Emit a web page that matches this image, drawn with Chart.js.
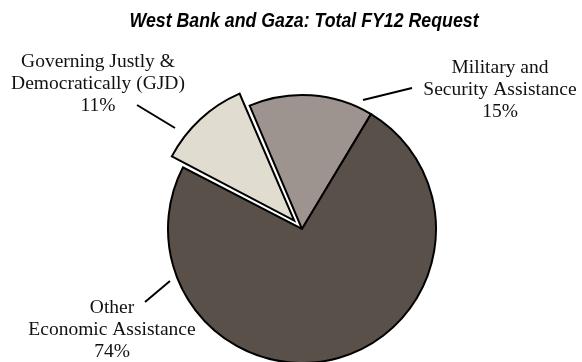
<!DOCTYPE html>
<html>
<head>
<meta charset="utf-8">
<script src="https://cdn.jsdelivr.net/npm/chart.js@4.4.1/dist/chart.umd.min.js"></script>
<style>
  body { margin: 0; background: #fff; }
  #wrap { width: 582px; height: 362px; }
</style>
</head>
<body>
<div id="wrap"><canvas id="myChart"></canvas></div>
<script>
var chartTitle = 'West Bank and Gaza: Total FY12 Request'
var labels = ['Military and Security Assistance', 'Other Economic Assistance', 'Governing Justly & Democratically (GJD)']
var shares = [15, 74, 11]
var labelLines = [
    ['Military and', 'Security Assistance'],
    ['Other', 'Economic Assistance'],
    ['Governing Justly &', 'Democratically (GJD)']
]
var colors = ['#9d948f', '#5a504a', '#e0ddd0']
var pulled = [0, 0, 46]

// where each callout sits, relative to the pie centre (text centre x, first baseline y, leader line)
var calloutSpots = [
    { tx: 198, ty: -156, line: [61, -129, 110, -141] },
    { tx: -190, ty: 84, line: [-157, 73, -132, 52] },
    { tx: -204, ty: -162, line: [-165, -124, -127, -101] }
]

// condensed bold italic heading, squeezed horizontally since no narrow face is around
var heading = {
    id: 'heading',
    afterDraw(chart) {
        var c = chart.ctx
        c.save()
        c.fillStyle = '#000'
        c.font = 'italic bold 19.5px "Liberation Sans", sans-serif'
        c.textAlign = 'center'
        c.textBaseline = 'alphabetic'
        c.translate(304, 27)
        c.scale(0.91, 1)
        c.fillText(chartTitle, 0, 0)
        c.restore()
    }
}

var callouts = {
    id: 'callouts',
    afterDatasetsDraw(chart) {
        var meta = chart.getDatasetMeta(0)
        var cx = meta.data[0].x
        var cy = meta.data[0].y
        var c = chart.ctx
        c.save()
        c.fillStyle = '#111'
        c.strokeStyle = '#000'
        c.lineWidth = 2
        c.font = '19.5px "Liberation Serif", serif'
        c.textAlign = 'center'
        c.textBaseline = 'alphabetic'
        calloutSpots.forEach((s, i) => {
            var lines = labelLines[i].concat([shares[i] + '%'])
            lines.forEach((txt, k) => {
                c.fillText(txt, cx + s.tx, cy + s.ty + k * 22)
            })
            c.beginPath()
            c.moveTo(cx + s.line[0], cy + s.line[1])
            c.lineTo(cx + s.line[2], cy + s.line[3])
            c.stroke()
        })
        c.restore()
    }
}

var ctx = document.getElementById('myChart').getContext('2d');
var myChart = new Chart(ctx, {
    type: 'pie',
    data: {
        labels: labels,
        datasets: [{
            data: shares,
            backgroundColor: colors,
            borderColor: '#000',
            borderWidth: 2,
            borderJoinStyle: 'miter',
            offset: pulled
        }]
    },
    options: {
        responsive: true,
        maintainAspectRatio: false,
        animation: false,
        rotation: -23,
        radius: 134,
        layout: {
            padding: { left: 22, right: 0, top: 96, bottom: 0 }
        },
        plugins: {
            legend: { display: false },
            tooltip: { enabled: false },
            title: { display: false }
        }
    },
    plugins: [callouts, heading]
});
</script>
</body>
</html>
